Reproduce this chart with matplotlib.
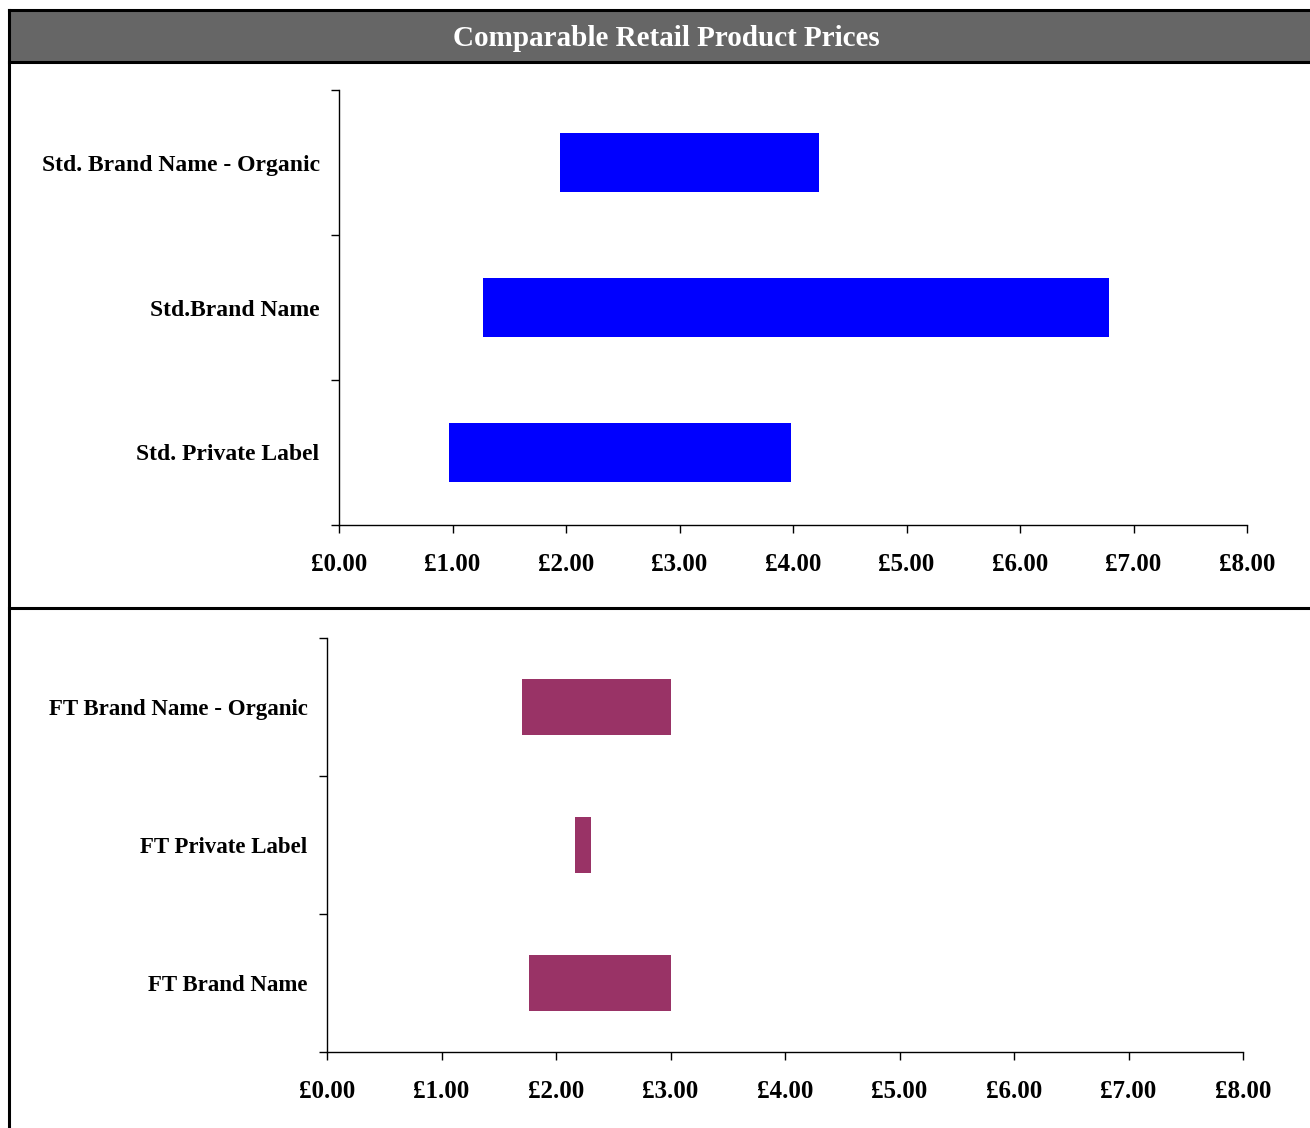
import matplotlib
matplotlib.use("Agg")
import matplotlib.pyplot as plt
from matplotlib.lines import Line2D
from matplotlib.patches import Rectangle
import numpy as np

plt.rcParams['font.family'] = ['Liberation Serif', 'DejaVu Serif']
plt.rcParams['font.weight'] = 'bold'

title = "Comparable Retail Product Prices"
top_categories = ["Std. Private Label", "Std.Brand Name", "Std. Brand Name - Organic"]
top_low = [0.97, 1.27, 1.95]
top_high = [3.98, 6.78, 4.23]
bot_categories = ["FT Brand Name", "FT Private Label", "FT Brand Name - Organic"]
bot_low = [1.76, 2.17, 1.70]
bot_high = [3.00, 2.31, 3.00]
xticks = [0, 1, 2, 3, 4, 5, 6, 7, 8]
xticklabels = ["£0.00", "£1.00", "£2.00", "£3.00", "£4.00", "£5.00", "£6.00", "£7.00", "£8.00"]

W, H = 1310, 1128
fig = plt.figure(figsize=(W / 100, H / 100), dpi=100)

def fx(x):
    return x / W

def fy(y):
    return 1 - y / H

# title bar
fig.patches.append(Rectangle((fx(9), fy(62)), fx(W - 9), (62 - 10) / H,
                             transform=fig.transFigure, facecolor="#666666",
                             edgecolor="none", zorder=0))
fig.text(fx(666), fy(38), title, color="white", fontsize=21, fontweight="bold",
         ha="center", va="center")
for y in (10, 62, 608):
    fig.add_artist(Line2D([fx(9), 1], [fy(y), fy(y)], color="black", lw=2.2,
                          transform=fig.transFigure))
fig.add_artist(Line2D([fx(9), fx(9)], [fy(10), 0], color="black", lw=2.2,
                      transform=fig.transFigure))


def panel(rect_px, cats, low, high, color, catsize, pad):
    x0, y0, x1, y1 = rect_px
    ax = fig.add_axes([fx(x0), fy(y1), (x1 - x0) / W, (y1 - y0) / H])
    pos = np.arange(len(cats))
    widths = np.array(high) - np.array(low)
    ax.barh(pos, widths, left=low, height=0.41, color=color)
    ax.set_xlim(0, 8)
    ax.set_ylim(-0.5, len(cats) - 0.5)
    ax.set_xticks(xticks)
    ax.set_xticklabels(xticklabels, fontsize=18, fontweight="bold")
    ax.set_yticks(pos)
    ax.set_yticklabels(cats, fontsize=catsize, fontweight="bold")
    ax.set_yticks(np.arange(len(cats) + 1) - 0.5, minor=True)
    ax.tick_params(axis="y", which="major", length=0, pad=pad)
    ax.tick_params(axis="y", which="minor", length=6, width=1, direction="out")
    ax.tick_params(axis="x", which="major", length=6, width=1, direction="out", pad=14)
    for s in ("top", "right"):
        ax.spines[s].set_visible(False)
    ax.spines["left"].set_linewidth(1)
    ax.spines["bottom"].set_linewidth(1)
    return ax

panel((339, 90, 1247, 525), top_categories, top_low, top_high, "#0000FF", 17, 14)
panel((327, 638, 1243, 1052), bot_categories, bot_low, bot_high, "#993366", 16.5, 14)

fig.savefig("out.png", dpi=100)
